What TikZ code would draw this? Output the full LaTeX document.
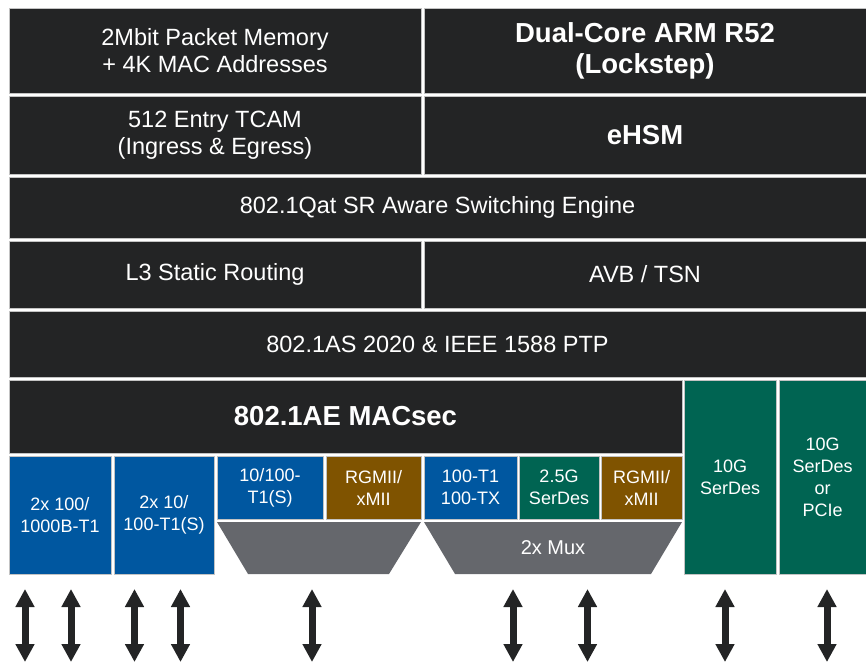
\documentclass[tikz,border=0pt]{standalone}
\usepackage{fontspec}
\setmainfont{Liberation Sans}
\usetikzlibrary{arrows.meta}
\definecolor{blockdark}{RGB}{35,36,37}
\definecolor{phyblue}{RGB}{0,87,160}
\definecolor{miibrown}{RGB}{127,83,0}
\definecolor{serdesgreen}{RGB}{0,100,82}
\definecolor{muxgray}{RGB}{101,103,108}
\definecolor{edgegray}{RGB}{195,195,195}
\begin{document}
\begin{tikzpicture}[x=1pt,y=-1pt,
    blk/.style={draw=edgegray,line width=0.7pt,fill=blockdark,text=white,inner sep=0pt,align=center},
    big/.style={font=\fontsize{23.5}{27}\selectfont},
    bigb/.style={font=\fontsize{27.5}{31}\selectfont\bfseries},
    small/.style={font=\fontsize{18}{22}\selectfont},
    link/.style={draw=blockdark,line width=7pt,{Triangle[width=18pt,length=18pt]}-{Triangle[width=18pt,length=18pt]}}]
  \useasboundingbox (0,0) rectangle (866,664);
  \node[blk,big,minimum width=412pt,minimum height=85pt] (mem) at (215,50.5) {2Mbit Packet Memory\\+ 4K MAC Addresses};
  \node[blk,bigb,minimum width=442pt,minimum height=85pt] (arm) at (645,50.5) {Dual-Core ARM R52\\(Lockstep)};
  \node[blk,big,minimum width=412pt,minimum height=78pt] (tcam) at (215,135) {512 Entry TCAM\\(Ingress \& Egress)};
  \node[blk,bigb,minimum width=442pt,minimum height=78pt] (hsm) at (645,135) {eHSM};
  \node[blk,big,minimum width=857pt,minimum height=61pt] (qat) at (437.5,207.5) {802.1Qat SR Aware Switching Engine};
  \node[blk,big,minimum width=412pt,minimum height=67pt] (l3) at (215,274.5) {L3 Static Routing};
  \node[blk,big,minimum width=442pt,minimum height=67pt] (avb) at (645,274.5) {AVB / TSN};
  \node[blk,big,minimum width=857pt,minimum height=66pt] (ptp) at (437.5,344) {802.1AS 2020 \& IEEE 1588 PTP};
  \node[blk,bigb,minimum width=673pt,minimum height=73pt] (macsec) at (345.5,416.5) {802.1AE MACsec};
  \node[blk,small,fill=serdesgreen,minimum width=92pt,minimum height=194pt] (serdes) at (730,477) {10G\\SerDes};
  \node[blk,small,fill=serdesgreen,minimum width=87pt,minimum height=194pt] (pcie) at (822.5,477) {10G\\SerDes\\or\\PCIe};
  \node[blk,small,fill=phyblue,minimum width=102pt,minimum height=118pt] (phya) at (60,515) {2x 100/\\1000B-T1};
  \node[blk,small,fill=phyblue,minimum width=100pt,minimum height=118pt] (phyb) at (164,515) {2x 10/\\100-T1(S)};
  \node[blk,small,fill=phyblue,minimum width=106pt,minimum height=63pt] (tones) at (270,487.5) {10/100-\\T1(S)};
  \node[blk,small,fill=miibrown,minimum width=95pt,minimum height=63pt] (rgmiia) at (373.5,487.5) {RGMII/\\xMII};
  \node[blk,small,fill=phyblue,minimum width=93pt,minimum height=63pt] (tx) at (470.5,487.5) {100-T1\\100-TX};
  \node[blk,small,fill=serdesgreen,minimum width=80pt,minimum height=63pt] (sgmii) at (559,487.5) {2.5G\\SerDes};
  \node[blk,small,fill=miibrown,minimum width=81pt,minimum height=63pt] (rgmiib) at (641.5,487.5) {RGMII/\\xMII};
  \fill[muxgray] (217,522) -- (421,522) -- (389,574) -- (248,574) -- cycle;
  \fill[muxgray] (424,522) -- (682,522) -- (651,574) -- (455,574) -- cycle;
  \node[small,text=white,font=\fontsize{20}{24}\selectfont] (mux) at (553,548) {2x Mux};
  \foreach \i/\x in {1/25,2/71,3/134.5,4/180.5,5/312,6/513,7/587.5,8/725,9/827} {
    \coordinate (up\i) at (\x,589);
    \coordinate (dn\i) at (\x,662);
    \draw[link] (up\i) -- (dn\i);
  }
\end{tikzpicture}
\end{document}
